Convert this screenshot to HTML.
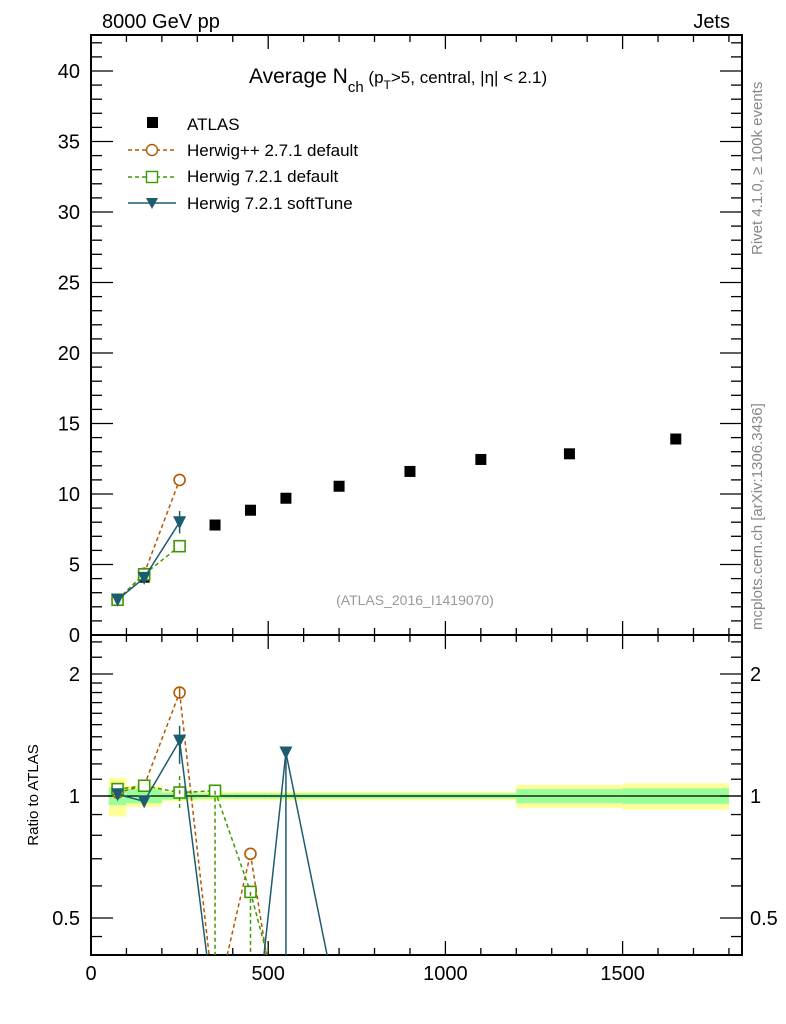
<!DOCTYPE html>
<html><head><meta charset="utf-8"><style>
html,body{margin:0;padding:0;background:#fff;overflow:hidden;width:786px;height:1024px;}
svg{display:block;}
svg text{font-family:"Liberation Sans",Arial,sans-serif;}
</style></head><body>
<svg id="chart" width="786" height="1024" xmlns="http://www.w3.org/2000/svg">
<text x="102" y="28" font-size="20">8000 GeV pp</text>
<text x="730" y="28" font-size="20" text-anchor="end">Jets</text>
<text x="249" y="83" font-size="21">Average N<tspan font-size="15" dy="9">ch</tspan><tspan font-size="17" dy="-9"> (p</tspan><tspan font-size="12" dy="6">T</tspan><tspan font-size="17" dy="-6">&gt;5, central, |η| &lt; 2.1)</tspan></text>
<text x="415" y="605" font-size="14" fill="#999" text-anchor="middle">(ATLAS_2016_I1419070)</text>
<text transform="translate(762,255) rotate(-90)" font-size="15" fill="#888">Rivet 4.1.0, ≥ 100k events</text>
<text transform="translate(762,630) rotate(-90)" font-size="15" fill="#888">mcplots.cern.ch [arXiv:1306.3436]</text>
<text transform="translate(38,795) rotate(-90)" font-size="15" text-anchor="middle">Ratio to ATLAS</text>
<g id="legend">
<rect x="147" y="117" width="11" height="11" fill="#000"/>
<text x="187" y="130" font-size="17">ATLAS</text>
<line x1="128" y1="150" x2="176" y2="150" stroke="#b35900" stroke-width="1.4" stroke-dasharray="4,3"/>
<circle cx="152" cy="150" r="5.5" fill="#fff" stroke="#b35900" stroke-width="1.4"/>
<text x="187" y="156" font-size="17">Herwig++ 2.7.1 default</text>
<line x1="128" y1="177" x2="176" y2="177" stroke="#3c9a00" stroke-width="1.4" stroke-dasharray="4,3"/>
<rect x="146.5" y="171.5" width="11" height="11" fill="#fff" stroke="#3c9a00" stroke-width="1.4"/>
<text x="187" y="182" font-size="17">Herwig 7.2.1 default</text>
<line x1="128" y1="203" x2="176" y2="203" stroke="#1d5c6e" stroke-width="1.6"/>
<polygon points="146,198 158,198 152,209" fill="#1d5c6e"/>
<text x="187" y="209" font-size="17">Herwig 7.2.1 softTune</text>
</g>
</svg>
<script>
const xCenters=[75,150,250,350,450,550,700,900,1100,1350,1650];
const xEdges=[50,100,200,300,400,500,600,800,1000,1200,1500,1800];
const atlasVals=[2.5,4.1,6.3,7.8,8.85,9.7,10.55,11.6,12.45,12.85,13.9];
const statBand=[0.05,0.04,0.02,0.015,0.015,0.015,0.015,0.015,0.015,0.04,0.045];
const totBand=[0.11,0.06,0.03,0.025,0.025,0.025,0.025,0.025,0.025,0.065,0.075];
const hppMain=[2.5,4.35,11.0];
const h7Main=[2.5,4.3,6.3];
const softMain=[2.5,4.05,8.0];
const softMainErr=[0.1,0.2,0.8];
const hppRatio=[1.02,1.06,1.80,0.3,0.72,0.2];
const h7Ratio=[1.04,1.06,1.02,1.03,0.58,0.27];
const softRatio=[1.01,0.97,1.37,0.28,0.2,1.28,0.29];
const xTicks=[0,500,1000,1500];
const mainTicks=[0,5,10,15,20,25,30,35,40];
const ratioTicks=[0.5,1,2];
const NS="http://www.w3.org/2000/svg";
const svg=document.getElementById('chart');
const L=91,R=742,T=35,MB=635,RB=955;
const X=v=>L+v*0.3544;
const Y=v=>MB-v*14.1;
const YR=v=>796-Math.log2(v)*122;
function mk(t,a,p){const e=document.createElementNS(NS,t);for(const k in a)e.setAttribute(k,a[k]);(p||svg).appendChild(e);return e;}
const gb=mk('g',{});


for(let i=0;i<xCenters.length;i++){
 const x1=X(xEdges[i]),x2=X(xEdges[i+1]);
 const b=mk('rect',{x:x1,y:YR(1+totBand[i]),width:x2-x1,height:YR(1-totBand[i])-YR(1+totBand[i]),fill:'#ffff99'},gb);
 
 
 const s=mk('rect',{x:x1,y:YR(1+statBand[i]),width:x2-x1,height:YR(1-statBand[i])-YR(1+statBand[i]),fill:'#99ff99'},gb);
 
 
}
mk('line',{x1:L,x2:R,y1:YR(1),y2:YR(1),stroke:'#000','stroke-width':1.3});
const f1=mk('rect',{x:L,y:T,width:R-L,height:MB-T,fill:'none',stroke:'#000','stroke-width':2});


const f2=mk('rect',{x:L,y:MB,width:R-L,height:RB-MB,fill:'none',stroke:'#000','stroke-width':2});


for(let v=0;v<=1800;v+=100){
 const big=v%500===0,len=big?14:7;
 [T,MB,RB].forEach(y=>{
  if(y!==T)mk('line',{x1:X(v),x2:X(v),y1:y,y2:y-len,stroke:'#000','stroke-width':1.3});
  if(y!==RB)mk('line',{x1:X(v),x2:X(v),y1:y,y2:y+len,stroke:'#000','stroke-width':1.3});
 });
}
xTicks.forEach(v=>{const t=mk('text',{x:X(v),y:980,'font-size':20,'text-anchor':'middle'});t.textContent=v;

});
for(let v=0;v<=42;v++){const big=v%5===0,len=big?22:11;
 mk('line',{x1:L,x2:L+len,y1:Y(v),y2:Y(v),stroke:'#000','stroke-width':1.3});
 mk('line',{x1:R,x2:R-len,y1:Y(v),y2:Y(v),stroke:'#000','stroke-width':1.3});}
mainTicks.forEach(v=>{const t=mk('text',{x:80,y:Y(v)+7,'font-size':20,'text-anchor':'end'});t.textContent=v;

});
const rmin=[0.45,0.6,0.7,0.8,0.9,1.1,1.2,1.3,1.4,1.5,1.6,1.7,1.8,1.9,2,2.2,2.4,0.5,1];
rmin.forEach(v=>{const big=ratioTicks.includes(v),len=big?22:11;const y=YR(v);if(y<MB||y>RB)return;
 mk('line',{x1:L,x2:L+len,y1:y,y2:y,stroke:'#000','stroke-width':1.3});
 mk('line',{x1:R,x2:R-len,y1:y,y2:y,stroke:'#000','stroke-width':1.3});});
ratioTicks.forEach(v=>{[[80,'end'],[750,'start']].forEach(([x,a])=>{const t=mk('text',{x:x,y:YR(v)+7,'font-size':20,'text-anchor':a});t.textContent=v;

});});
// clip a segment to y in [top,bot]
function seg(x1,y1,x2,y2,top,bot){
 if((y1>bot&&y2>bot)||(y1<top&&y2<top))return null;
 function cl(xa,ya,xb,yb){
  if(ya>bot){const t=(bot-yb)/(ya-yb);return [xb+(xa-xb)*t,bot];}
  if(ya<top){const t=(top-yb)/(ya-yb);return [xb+(xa-xb)*t,top];}
  return [xa,ya];}
 const a=cl(x1,y1,x2,y2),b=cl(x2,y2,x1,y1);
 return [a[0],a[1],b[0],b[1]];
}
function series(vals,yf,color,dash,marker,top,bot,name){
 const g=mk('g',{});
 
 
 for(let i=0;i+1<vals.length;i++){
  const s=seg(X(xCenters[i]),yf(vals[i]),X(xCenters[i+1]),yf(vals[i+1]),top,bot);
  if(s)mk('line',{x1:s[0],y1:s[1],x2:s[2],y2:s[3],stroke:color,'stroke-width':1.5,'stroke-dasharray':dash||'none'},g);
 }
 vals.forEach((v,i)=>{const x=X(xCenters[i]),y=yf(v);if(y>bot-3)return;
  let m;
  if(marker==='c')m=mk('circle',{cx:x,cy:y,r:5.5,fill:'#fff',stroke:color,'stroke-width':1.6},g);
  else if(marker==='s')m=mk('rect',{x:x-5.5,y:y-5.5,width:11,height:11,fill:'#fff',stroke:color,'stroke-width':1.6},g);
  else m=mk('polygon',{points:(x-6.5)+','+(y-6)+' '+(x+6.5)+','+(y-6)+' '+x+','+(y+7),fill:color},g);
  
  
 });
 return g;
}
function ebar(g,x,a,b,yf,color,dash,bot){
 mk('line',{x1:X(x),x2:X(x),y1:Math.min(yf(a),bot),y2:Math.min(yf(b),bot),stroke:color,'stroke-width':1.5,'stroke-dasharray':dash||'none'},g);
}
const ga=mk('g',{});


atlasVals.forEach((v,i)=>{const r=mk('rect',{x:X(xCenters[i])-5.5,y:Y(v)-5.5,width:11,height:11,fill:'#000'},ga);

});
series(hppMain,Y,'#b35900','4,3','c',T,MB,'herwigpp-main');
series(h7Main,Y,'#3c9a00','4,3','s',T,MB,'herwig7-default-main');
const gs=series(softMain,Y,'#1d5c6e',null,'t',T,MB,'softtune-main');
softMain.forEach((v,i)=>ebar(gs,xCenters[i],v+softMainErr[i],v-softMainErr[i],Y,'#1d5c6e',null,MB));
const gh=series(hppRatio,YR,'#b35900','4,3','c',MB,RB,'herwigpp-ratio');
ebar(gh,250,1.85,1.75,YR,'#b35900',null,RB);
const gg=series(h7Ratio,YR,'#3c9a00','4,3','s',MB,RB,'herwig7-default-ratio');
[[250,1.12,0.93],[350,1.03,0.1],[450,0.58,0.1]].forEach(([x,a,b])=>ebar(gg,x,a,b,YR,'#3c9a00','4,3',RB));
const gt=series(softRatio,YR,'#1d5c6e',null,'t',MB,RB,'softtune-ratio');
[[250,1.49,1.2],[550,1.28,0.1],[150,1.0,0.95]].forEach(([x,a,b])=>ebar(gt,x,a,b,YR,'#1d5c6e',null,RB));
</script>
</body></html>
